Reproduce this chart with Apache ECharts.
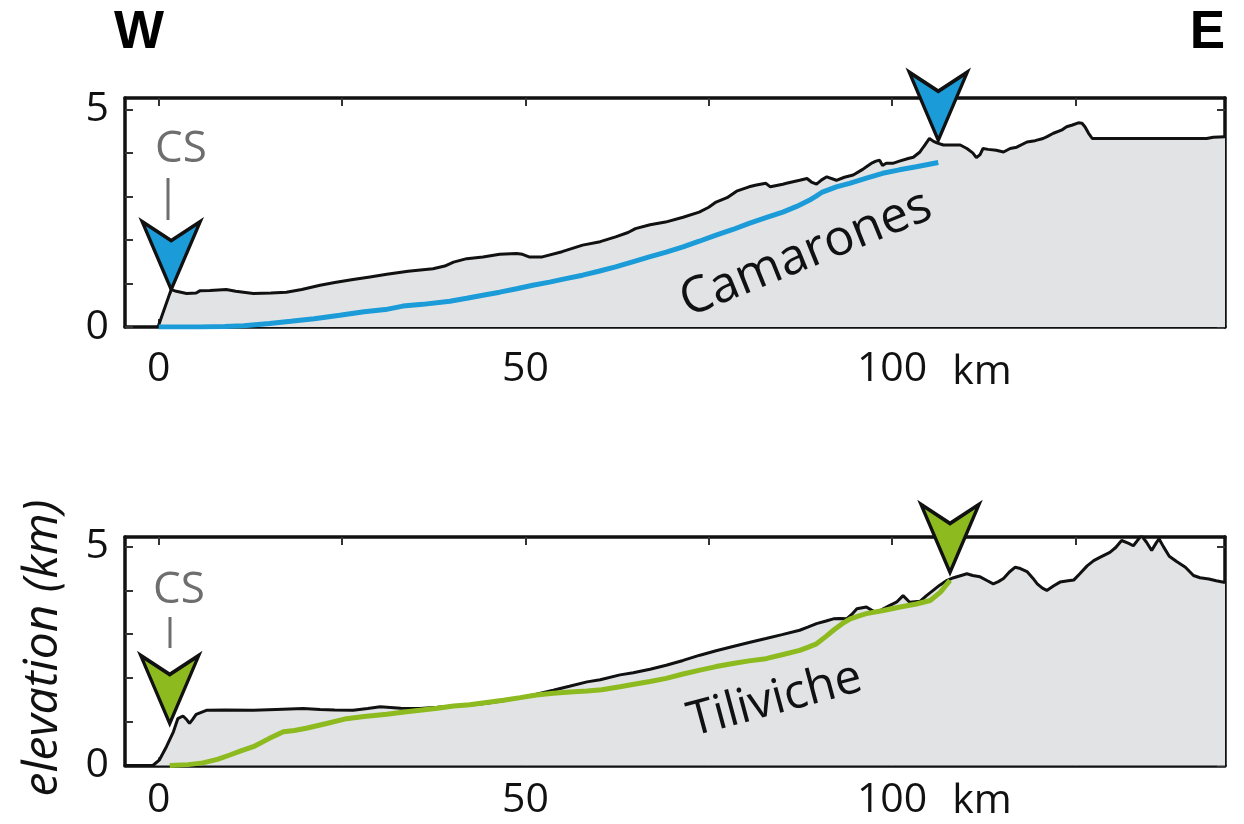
<!DOCTYPE html>
<html>
<head>
<meta charset="utf-8">
<script src="https://cdn.jsdelivr.net/npm/echarts@6/dist/echarts.min.js"></script>
<style>html,body{margin:0;padding:0;background:#fff}#c{width:1244px;height:824px}</style>
</head>
<body>
<div id="c"></div>
<script>
// ---- data (km) ----
const camProfileDist = [-0.1,1.7,2.4,3.8,5.1,5.6,7.0,9.2,10.5,12.9,15.3,17.4,19.5,22.0,24.0,26.5,28.8,31.1,34.0,37.4,39.0,40.2,42.0,44.2,46.5,48.8,49.6,50.5,52.3,55.0,57.8,60.2,62.3,64.0,65.0,67.0,69.1,71.5,73.7,75.0,76.0,77.5,78.8,80.5,81.5,82.8,83.4,85.1,85.6,87.4,88.4,89.0,89.7,90.4,91.1,92.4,93.5,94.7,96.0,96.5,97.3,97.8,98.3,98.7,99.2,100.1,101.0,102.2,102.9,103.8,104.3,105.1,105.6,106.1,107.0,108.4,109.3,110.2,111.0,111.5,112.0,112.4,113.1,114.2,115.2,116.1,117.0,118.4,119.5,120.6,121.2,122.0,123.1,123.8,124.6,125.4,125.9,126.3,126.8,127.3,131.0,135.0,139.0,142.9,143.8,145.4];
const camProfileElev = [0,0.86,0.82,0.77,0.78,0.83,0.84,0.86,0.82,0.77,0.78,0.80,0.86,0.96,1.02,1.09,1.15,1.21,1.28,1.34,1.40,1.49,1.57,1.61,1.67,1.69,1.67,1.61,1.61,1.73,1.88,1.96,2.07,2.17,2.26,2.35,2.41,2.52,2.64,2.75,2.87,2.97,3.12,3.22,3.26,3.30,3.22,3.28,3.30,3.37,3.41,3.33,3.28,3.38,3.45,3.37,3.44,3.49,3.62,3.68,3.77,3.81,3.83,3.71,3.76,3.76,3.81,3.87,3.90,4.02,4.14,4.33,4.27,4.23,4.18,4.18,4.18,4.10,4.00,3.89,3.96,4.10,4.08,4.06,4.02,4.10,4.13,4.25,4.28,4.33,4.38,4.45,4.52,4.60,4.64,4.69,4.68,4.60,4.45,4.33,4.33,4.33,4.33,4.33,4.36,4.37];
const camRiverDist = [0.0,2.0,5.6,9.0,11.6,15.1,18.0,21.2,24.7,28.0,30.9,33.3,36.0,39.7,42.0,44.2,46.5,48.8,51.0,53.3,55.5,57.8,60.0,62.3,64.5,66.9,69.2,71.5,73.7,76.0,78.3,80.5,82.8,85.1,87.0,88.7,89.6,90.5,92.4,94.2,96.5,98.7,101.0,103.3,106.3];
const camRiverElev = [0.0,0.0,0.0,0.01,0.03,0.08,0.13,0.19,0.27,0.35,0.40,0.48,0.52,0.59,0.66,0.73,0.80,0.88,0.96,1.03,1.11,1.19,1.28,1.38,1.49,1.61,1.72,1.84,1.97,2.11,2.24,2.38,2.51,2.64,2.77,2.91,3.00,3.10,3.22,3.30,3.42,3.53,3.61,3.68,3.78];
const camMarkerDist = [1.7, 106.3];
const camMarkerElev = [0.86, 4.29];

const tilProfileDist = [-4.6,-0.8,0.1,1.05,2.0,2.6,3.3,3.8,4.2,4.6,5.1,6.5,9.0,12.9,16.0,19.7,22.0,24.0,26.5,28.5,30.2,33.0,35.6,38.0,40.2,42.5,44.7,47.0,49.3,51.5,53.8,56.0,58.4,60.2,62.9,64.7,67.0,69.2,71.5,73.8,76.0,78.3,80.5,82.8,85.0,87.4,88.5,89.7,91.0,92.0,92.9,93.8,94.5,95.2,96.5,97.2,97.9,98.8,99.7,100.6,101.5,102.4,103.8,104.7,105.6,106.5,107.5,108.4,109.2,110.2,111.0,112.0,113.0,113.8,114.5,115.2,116.0,116.8,117.5,118.4,119.2,119.8,120.5,121.1,122.0,122.9,124.0,124.8,125.6,126.6,127.5,128.4,129.7,130.5,131.3,132.2,132.9,133.5,134.0,134.7,135.4,136.0,136.4,137.0,137.8,138.8,140.0,141.1,142.0,143.2,144.2,145.4];
const tilProfileElev = [0,0,0.13,0.43,0.77,1.07,1.13,1.05,0.96,1.05,1.17,1.26,1.27,1.26,1.28,1.30,1.28,1.27,1.26,1.30,1.34,1.31,1.30,1.33,1.36,1.38,1.42,1.48,1.55,1.63,1.72,1.81,1.91,1.96,2.07,2.12,2.20,2.29,2.40,2.52,2.62,2.72,2.81,2.90,2.99,3.09,3.16,3.24,3.30,3.35,3.36,3.35,3.45,3.58,3.62,3.55,3.49,3.58,3.66,3.73,3.88,3.73,3.75,3.88,4.00,4.12,4.23,4.29,4.33,4.38,4.34,4.31,4.22,4.15,4.20,4.27,4.42,4.53,4.50,4.43,4.28,4.15,4.05,4.00,4.10,4.19,4.22,4.24,4.38,4.56,4.68,4.76,4.87,4.98,5.14,5.08,5.02,5.15,5.25,5.10,4.91,5.08,5.18,5.00,4.78,4.66,4.53,4.34,4.29,4.26,4.22,4.18];
const tilRiverDist = [1.5,4.0,6.0,8.0,9.7,11.3,12.9,15.1,17.0,18.5,20.1,22.9,25.6,28.0,31.1,33.5,35.6,38.0,40.2,42.4,44.7,47.0,49.3,51.5,53.8,56.1,58.4,60.4,62.9,65.0,67.0,69.2,71.5,73.8,76.0,78.3,80.5,82.8,85.0,87.4,88.5,89.7,91.0,92.0,93.2,94.3,95.5,96.5,98.8,101.1,103.3,105.2,106.6,107.9];
const tilRiverElev = [0.0,0.02,0.06,0.14,0.24,0.34,0.43,0.62,0.77,0.80,0.85,0.96,1.07,1.12,1.17,1.22,1.26,1.31,1.36,1.39,1.44,1.49,1.55,1.61,1.65,1.68,1.70,1.73,1.80,1.86,1.92,1.99,2.09,2.18,2.26,2.33,2.39,2.44,2.53,2.63,2.70,2.78,2.95,3.09,3.24,3.35,3.42,3.47,3.54,3.62,3.69,3.77,3.96,4.23];
const tilMarkerDist = [1.5, 107.9];
const tilMarkerElev = [0.96, 4.41];

const xTickValues = [0, 25, 50, 75, 100, 125];
const xLabelValues = [0, 50, 100];
const yTickValues = [0, 1, 2, 3, 4, 5];
const yLabelValues = [0, 5];

// ---- helpers ----
const zip = (a, b) => a.map((v, i) => [v, b[i]]);
const FONT = 'Open Sans';
const BLUE = '#1b9bd7';
const GREEN = '#8cba1f';
const GRAYFILL = '#e2e3e5';
const chevron = 'path://M0,0 L50,28 L100,0 L50,100 Z';

function axisLine() { return { show: true, onZero: false, lineStyle: { color: '#111', width: 3.5 } }; }
function xAxes(gridIndex, labelMargin) {
  const tick = { show: true, inside: true, length: 8, lineStyle: { color: '#333', width: 2 }, customValues: xTickValues };
  return [
    { type: 'value', gridIndex, position: 'bottom', min: -4.6, max: 145.4,
      axisLine: axisLine(), axisTick: tick, splitLine: { show: false },
      axisLabel: { show: true, customValues: xLabelValues, margin: labelMargin, fontFamily: FONT, fontSize: 41, color: '#111' } },
    { type: 'value', gridIndex, position: 'top', min: -4.6, max: 145.4,
      axisLine: axisLine(), axisTick: tick, splitLine: { show: false }, axisLabel: { show: false } }
  ];
}
function yAxes(gridIndex, max) {
  const tick = { show: true, inside: true, length: 8, lineStyle: { color: '#333', width: 2 }, customValues: yTickValues };
  return [
    { type: 'value', gridIndex, position: 'left', min: 0, max,
      axisLine: axisLine(), axisTick: tick, splitLine: { show: false },
      axisLabel: { show: true, customValues: yLabelValues, margin: 16, fontFamily: FONT, fontSize: 41, color: '#111' } },
    { type: 'value', gridIndex, position: 'right', min: 0, max,
      axisLine: axisLine(), axisTick: tick, splitLine: { show: false }, axisLabel: { show: false } }
  ];
}
function panelSeries(xi, yi, prof, river, markers, color) {
  return [
    { type: 'line', xAxisIndex: xi, yAxisIndex: yi, data: prof, symbol: 'none', z: 2,
      lineStyle: { color: '#111', width: 3 }, areaStyle: { color: GRAYFILL, opacity: 1 } },
    { type: 'line', xAxisIndex: xi, yAxisIndex: yi, data: river, symbol: 'none', z: 3,
      lineStyle: { color, width: 5 } },
    { type: 'scatter', xAxisIndex: xi, yAxisIndex: yi, data: markers, clip: false, z: 5,
      symbol: chevron, symbolSize: [58, 68], symbolOffset: [0, '-50%'],
      itemStyle: { color, borderColor: '#111', borderWidth: 3.5, opacity: 1 } }
  ];
}

const chart = echarts.init(document.getElementById('c'), null, { renderer: 'canvas' });
chart.setOption({
  animation: false,
  backgroundColor: '#fff',
  grid: [
    { left: 125, right: 19, top: 98, height: 229, outerBoundsMode: 'none', containLabel: false },
    { left: 125, right: 19, top: 537, height: 228.5, outerBoundsMode: 'none', containLabel: false }
  ],
  xAxis: [...xAxes(0, 22), ...xAxes(1, 14)],
  yAxis: [...yAxes(0, 5.26), ...yAxes(1, 5.22)],
  series: [
    ...panelSeries(0, 0, zip(camProfileDist, camProfileElev), zip(camRiverDist, camRiverElev), zip(camMarkerDist, camMarkerElev), BLUE),
    ...panelSeries(2, 2, zip(tilProfileDist, tilProfileElev), zip(tilRiverDist, tilRiverElev), zip(tilMarkerDist, tilMarkerElev), GREEN)
  ],
  graphic: [
    { type: 'text', left: 114, top: 7, style: { text: 'W', font: 'bold 53px "Liberation Sans", Arial, sans-serif', fill: '#000' } },
    { type: 'text', right: 19, top: 7, style: { text: 'E', font: 'bold 53px "Liberation Sans", Arial, sans-serif', fill: '#000' } },
    { type: 'text', x: 982, y: 372, style: { text: 'km', font: '41px "Open Sans"', fill: '#111', align: 'center', verticalAlign: 'middle' } },
    { type: 'text', x: 982, y: 801, style: { text: 'km', font: '41px "Open Sans"', fill: '#111', align: 'center', verticalAlign: 'middle' } },
    { type: 'text', x: 43, y: 648, rotation: Math.PI / 2, style: { text: 'elevation (km)', font: 'italic 48px "Open Sans"', fill: '#111', align: 'center', verticalAlign: 'middle' } },
    { type: 'text', x: 181, y: 149, style: { text: 'CS', font: '44px "Open Sans"', fill: '#6e6e6e', align: 'center', verticalAlign: 'middle' } },
    { type: 'line', shape: { x1: 168, y1: 178, x2: 168, y2: 220 }, style: { stroke: '#6e6e6e', lineWidth: 3 } },
    { type: 'text', x: 179, y: 590, style: { text: 'CS', font: '44px "Open Sans"', fill: '#6e6e6e', align: 'center', verticalAlign: 'middle' } },
    { type: 'line', shape: { x1: 170, y1: 617, x2: 170, y2: 648 }, style: { stroke: '#6e6e6e', lineWidth: 3 } },
    { type: 'text', x: 806, y: 254, rotation: 22 * Math.PI / 180, z: 10, style: { text: 'Camarones', font: '50px "Open Sans"', fill: '#111', align: 'center', verticalAlign: 'middle' } },
    { type: 'text', x: 775, y: 700, rotation: 15 * Math.PI / 180, z: 10, style: { text: 'Tiliviche', font: '48px "Open Sans"', fill: '#111', align: 'center', verticalAlign: 'middle' } }
  ]
});
</script>
</body>
</html>
